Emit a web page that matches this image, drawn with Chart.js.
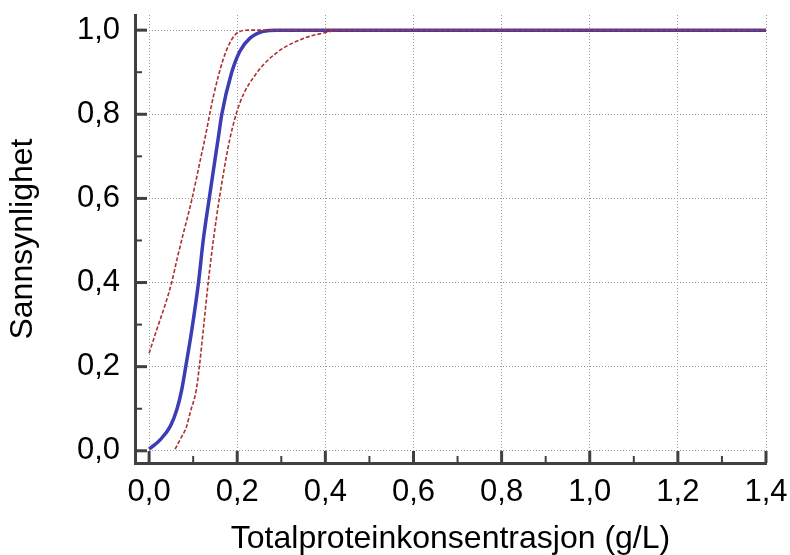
<!DOCTYPE html>
<html>
<head>
<meta charset="utf-8">
<script src="https://cdn.jsdelivr.net/npm/chart.js@4/dist/chart.umd.min.js"></script>
<style>
  html, body { margin: 0; padding: 0; background: #fff; }
  #wrap { width: 790px; height: 555px; }
</style>
</head>
<body>
<div id="wrap"><canvas id="chart"></canvas></div>
<script>
// estimert sannsynlighetskurve med konfidensbånd
const fitX = [0, 0.025, 0.048, 0.063, 0.074, 0.082, 0.097, 0.112, 0.123, 0.136, 0.157, 0.165, 0.187, 0.206, 0.229, 0.259, 0.29, 1.4];
const fitY = [0.004, 0.026, 0.058, 0.098, 0.145, 0.193, 0.288, 0.399, 0.502, 0.597, 0.744, 0.8, 0.898, 0.95, 0.981, 0.997, 1.0, 1.0];

const upperX = [0, 0.0174, 0.04, 0.051, 0.063, 0.078, 0.097, 0.118, 0.127, 0.146, 0.168, 0.187, 0.206, 0.23, 1.4];
const upperY = [0.232, 0.288, 0.359, 0.399, 0.454, 0.518, 0.597, 0.7, 0.744, 0.843, 0.93, 0.977, 0.997, 1.0, 1.0];

const lowerX = [0.059, 0.07, 0.085, 0.093, 0.107, 0.114, 0.123, 0.134, 0.146, 0.159, 0.183, 0.206, 0.244, 0.289, 0.342, 0.395, 0.44, 1.4];
const lowerY = [0.004, 0.026, 0.058, 0.09, 0.145, 0.2, 0.288, 0.399, 0.502, 0.597, 0.74, 0.827, 0.898, 0.946, 0.977, 0.993, 1.0, 1.0];

const xTicks = [0, 0.1, 0.2, 0.3, 0.4, 0.5, 0.6, 0.7, 0.8, 0.9, 1.0, 1.1, 1.2, 1.3, 1.4];
const yTicks = [0, 0.1, 0.2, 0.3, 0.4, 0.5, 0.6, 0.7, 0.8, 0.9, 1.0];

const xTitle = 'Totalproteinkonsentrasjon (g/L)';
const yTitle = 'Sannsynlighet';

const AXIS_COLOR = '#404040';
const FONT = 'Liberation Sans, Arial, sans-serif';

function isMajor(v) {
    return Math.round(v * 10) % 2 === 0;
}

function label(v) {
    return isMajor(v) ? v.toFixed(1).replace('.', ',') : '';
}

function toPoints(xs, ys) {
    return xs.map((x, i) => ({ x: x, y: ys[i] }));
}

// tick marks pointing into the plot, long for major, short for minor
const innerTicks = {
    id: 'innerTicks',
    afterDatasetsDraw(chart) {
        const ctx = chart.ctx;
        const area = chart.chartArea;
        const xs = chart.scales.x;
        const ys = chart.scales.y;
        ctx.save();
        ctx.strokeStyle = AXIS_COLOR;
        xs.ticks.forEach(t => {
            const px = xs.getPixelForValue(t.value);
            const major = isMajor(t.value);
            ctx.lineWidth = major ? 3 : 2;
            ctx.beginPath();
            ctx.moveTo(px, area.bottom);
            ctx.lineTo(px, area.bottom - (major ? 12 : 7));
            ctx.stroke();
        });
        ys.ticks.forEach(t => {
            const py = ys.getPixelForValue(t.value);
            const major = isMajor(t.value);
            ctx.lineWidth = major ? 3 : 2;
            ctx.beginPath();
            ctx.moveTo(area.left, py);
            ctx.lineTo(area.left + (major ? 12 : 7), py);
            ctx.stroke();
        });
        ctx.restore();
    }
};

function main() {
    const canvas = document.querySelector('#chart');

    new Chart(canvas.getContext('2d'), {
        type: 'line',
        data: {
            datasets: [
                {
                    label: 'Øvre',
                    data: toPoints(upperX, upperY),
                    borderColor: '#ad3030',
                    borderWidth: 1.6,
                    borderDash: [4, 2],
                    pointRadius: 0,
                    cubicInterpolationMode: 'monotone',
                    fill: false
                },
                {
                    label: 'Nedre',
                    data: toPoints(lowerX, lowerY),
                    borderColor: '#ad3030',
                    borderWidth: 1.6,
                    borderDash: [4, 2],
                    pointRadius: 0,
                    cubicInterpolationMode: 'monotone',
                    fill: false
                },
                {
                    label: 'Sannsynlighet',
                    data: toPoints(fitX, fitY),
                    borderColor: '#3c3cb4',
                    borderWidth: 3.5,
                    pointRadius: 0,
                    cubicInterpolationMode: 'monotone',
                    fill: false
                }
            ]
        },
        options: {
            responsive: true,
            maintainAspectRatio: false,
            animation: false,
            layout: { padding: { left: 0, right: 0, top: 0, bottom: 0 } },
            plugins: {
                legend: { display: false },
                tooltip: { enabled: false }
            },
            scales: {
                x: {
                    type: 'linear',
                    min: -0.032,
                    max: 1.4,
                    afterBuildTicks: axis => { axis.ticks = xTicks.map(v => ({ value: v })); },
                    afterFit: axis => {
                        axis.height = 92;
                        axis.paddingLeft = 0;
                        axis.paddingRight = 24;
                    },
                    ticks: {
                        autoSkip: false,
                        maxRotation: 0,
                        padding: 11,
                        color: '#000',
                        font: { family: FONT, size: 31 },
                        callback: v => label(v)
                    },
                    grid: {
                        drawTicks: false,
                        lineWidth: 1,
                        color: c => (c.tick && isMajor(c.tick.value)) ? '#9a9a9a' : 'rgba(0,0,0,0)'
                    },
                    border: { display: true, color: AXIS_COLOR, width: 3, dash: [1, 2] },
                    title: {
                        display: true,
                        text: xTitle,
                        color: '#000',
                        font: { family: FONT, size: 32 },
                        padding: { top: 0, bottom: -3 }
                    }
                },
                y: {
                    type: 'linear',
                    min: -0.029,
                    max: 1.036,
                    afterBuildTicks: axis => { axis.ticks = yTicks.map(v => ({ value: v })); },
                    afterFit: axis => {
                        axis.width = 135;
                        axis.paddingTop = 15;
                        axis.paddingBottom = 0;
                    },
                    ticks: {
                        autoSkip: false,
                        padding: 15,
                        color: '#000',
                        font: { family: FONT, size: 31 },
                        callback: v => label(v)
                    },
                    grid: {
                        drawTicks: false,
                        lineWidth: 1,
                        color: c => (c.tick && isMajor(c.tick.value)) ? '#9a9a9a' : 'rgba(0,0,0,0)'
                    },
                    border: { display: true, color: AXIS_COLOR, width: 3, dash: [1, 2] },
                    title: {
                        display: true,
                        text: yTitle,
                        color: '#000',
                        font: { family: FONT, size: 32 },
                        padding: { top: 4, bottom: 0 }
                    }
                }
            }
        },
        plugins: [innerTicks]
    });
}

main();
</script>
</body>
</html>
